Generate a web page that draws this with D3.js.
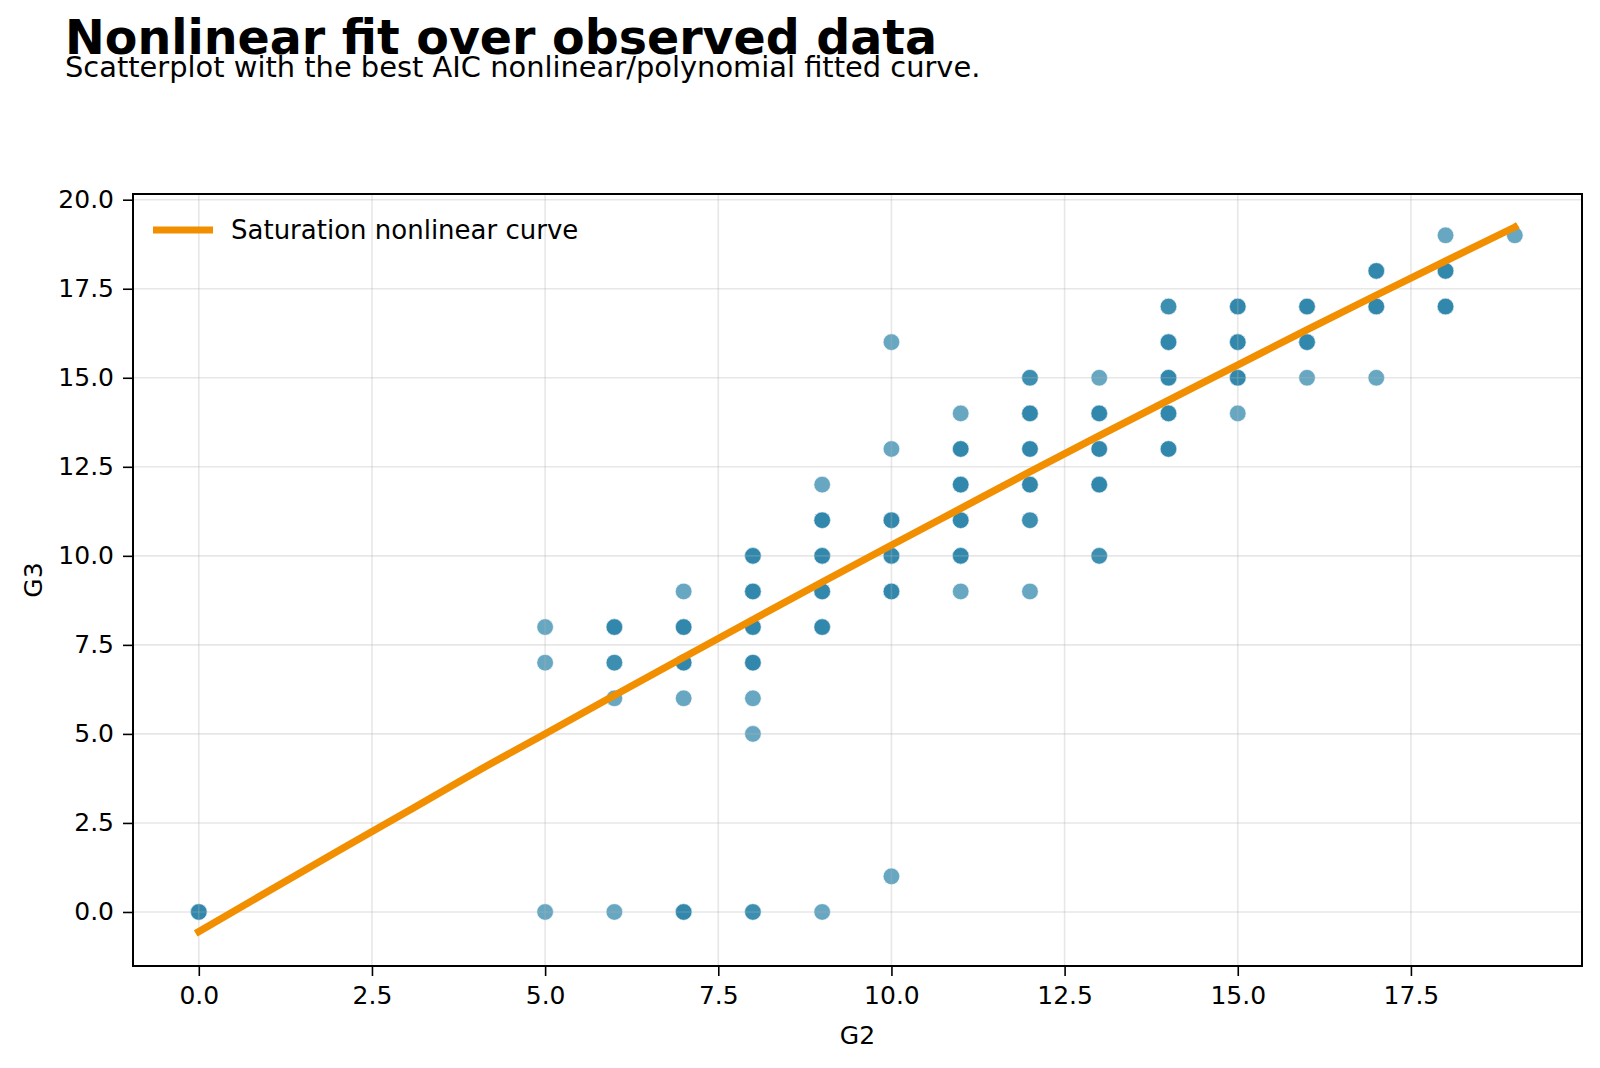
<!DOCTYPE html>
<html>
<head>
<meta charset="utf-8">
<script src="https://cdn.jsdelivr.net/npm/d3@7"></script>
<style>
  html, body { margin: 0; padding: 0; background: #fff; }
  text { font-family: "DejaVu Sans", sans-serif; fill: #000; }
</style>
</head>
<body>
<div id="chart"></div>
<script>
// observed points (G2, G3) and how many observations sit on each spot
const g2Obs = [0, 5, 5, 5, 6, 6, 6, 6, 7, 7, 7, 7, 7, 8, 8, 8, 8, 8, 8, 8,
  9, 9, 9, 9, 9, 9, 10, 10, 10, 10, 10, 10, 11, 11, 11, 11, 11, 11,
  12, 12, 12, 12, 12, 12, 13, 13, 13, 13, 13, 14, 14, 14, 14, 14,
  15, 15, 15, 15, 16, 16, 16, 17, 17, 17, 18, 18, 18, 19];
const g3Obs = [0, 8, 7, 0, 8, 7, 6, 0, 9, 8, 7, 6, 0, 10, 9, 8, 7, 6, 5, 0,
  12, 11, 10, 9, 8, 0, 16, 13, 11, 10, 9, 1, 14, 13, 12, 11, 10, 9,
  15, 14, 13, 12, 11, 9, 15, 14, 13, 12, 10, 17, 16, 15, 14, 13,
  17, 16, 15, 14, 17, 16, 15, 18, 17, 15, 19, 18, 17, 19];
const nObs = [3, 1, 1, 1, 3, 2, 1, 1, 1, 3, 3, 1, 3, 3, 3, 3, 3, 1, 1, 2,
  1, 3, 3, 3, 3, 1, 1, 1, 3, 3, 3, 1, 1, 3, 3, 3, 3, 1,
  2, 3, 3, 3, 2, 1, 1, 3, 3, 3, 2, 2, 3, 3, 3, 3,
  3, 3, 3, 1, 3, 3, 1, 3, 3, 1, 1, 3, 3, 1];

// fitted saturation curve
const curveX = [0, 1, 2, 3, 4, 5, 6, 7, 8, 9, 10, 11, 12, 13, 14, 15, 16, 17, 18, 19];
const curveY = [-0.55, 0.58, 1.70, 2.81, 3.93, 5.00, 6.08, 7.15, 8.21, 9.26,
  10.30, 11.33, 12.36, 13.37, 14.37, 15.36, 16.35, 17.32, 18.28, 19.23];

const xTicks = [0, 2.5, 5, 7.5, 10, 12.5, 15, 17.5];
const yTicks = [0, 2.5, 5, 7.5, 10, 12.5, 15, 17.5, 20];

const width = 1600, height = 1068;
const plotLeft = 133, plotRight = 1582, plotTop = 194, plotBottom = 966;

const svg = d3.select('#chart').append('svg')
  .attr('width', width)
  .attr('height', height);

// titles
svg.append('text')
  .attr('x', 65).attr('y', 54)
  .style('font-size', '47.5px').style('font-weight', 'bold')
  .text('Nonlinear fit over observed data');
svg.append('text')
  .attr('x', 65).attr('y', 77)
  .style('font-size', '28.9px')
  .text('Scatterplot with the best AIC nonlinear/polynomial fitted curve.');

const x = d3.scaleLinear().domain([-0.95, 19.97]).range([plotLeft, plotRight]);
const y = d3.scaleLinear().domain([-1.517, 20.16]).range([plotBottom, plotTop]);

// points (one circle per observation so overlaps get darker)
const pts = [];
g2Obs.forEach((g2, i) => {
  for (let k = 0; k < nObs[i]; k++) pts.push({ g2, g3: g3Obs[i] });
});

svg.append('g')
  .selectAll('circle')
  .data(pts)
  .enter()
  .append('circle')
  .attr('cx', d => x(d.g2))
  .attr('cy', d => y(d.g3))
  .attr('r', 8.3)
  .attr('fill', '#2E86AB')
  .attr('stroke', '#fff')
  .attr('stroke-width', 0.6)
  .attr('opacity', 0.72);

// grid (drawn over the scatter, like matplotlib does)
const grid = svg.append('g')
  .attr('stroke', '#b0b0b0')
  .attr('stroke-opacity', 0.3)
  .attr('stroke-width', 1.6);
grid.selectAll('.gx').data(xTicks).enter().append('line')
  .attr('x1', d => x(d)).attr('x2', d => x(d))
  .attr('y1', plotTop).attr('y2', plotBottom);
grid.selectAll('.gy').data(yTicks).enter().append('line')
  .attr('x1', plotLeft).attr('x2', plotRight)
  .attr('y1', d => y(d)).attr('y2', d => y(d));

// fitted curve
const line = d3.line()
  .x(d => x(d[0]))
  .y(d => y(d[1]))
  .curve(d3.curveMonotoneX);

svg.append('path')
  .datum(curveX.map((v, i) => [v, curveY[i]]))
  .attr('d', line)
  .attr('fill', 'none')
  .attr('stroke', '#F18F01')
  .attr('stroke-width', 7.2)
  .attr('stroke-linecap', 'square');

// axes
const xAxis = svg.append('g')
  .attr('transform', `translate(0, ${plotBottom})`)
  .call(d3.axisBottom(x).tickValues(xTicks).tickFormat(d3.format('.1f')).tickSizeOuter(0).tickSize(10).tickPadding(10));
const yAxis = svg.append('g')
  .attr('transform', `translate(${plotLeft}, 0)`)
  .call(d3.axisLeft(y).tickValues(yTicks).tickFormat(d3.format('.1f')).tickSizeOuter(0).tickSize(10).tickPadding(9));

[xAxis, yAxis].forEach(ax => {
  ax.select('.domain').remove();
  ax.selectAll('.tick line').attr('stroke', '#000').attr('stroke-width', 1.6);
  ax.selectAll('.tick text')
    .style('font-family', '"DejaVu Sans", sans-serif')
    .style('font-size', '25px')
    .attr('fill', '#000');
});

// spines
svg.append('rect')
  .attr('x', plotLeft).attr('y', plotTop)
  .attr('width', plotRight - plotLeft).attr('height', plotBottom - plotTop)
  .attr('fill', 'none')
  .attr('stroke', '#000')
  .attr('stroke-width', 2);

// axis labels
svg.append('text')
  .attr('x', (plotLeft + plotRight) / 2).attr('y', 1044)
  .attr('text-anchor', 'middle')
  .style('font-size', '25px')
  .text('G2');
svg.append('text')
  .attr('transform', `translate(42, ${(plotTop + plotBottom) / 2}) rotate(-90)`)
  .attr('text-anchor', 'middle')
  .style('font-size', '25px')
  .text('G3');

// legend
svg.append('line')
  .attr('x1', 153).attr('x2', 213)
  .attr('y1', 230).attr('y2', 230)
  .attr('stroke', '#F18F01')
  .attr('stroke-width', 7.2);
svg.append('text')
  .attr('x', 231).attr('y', 239)
  .style('font-size', '26px')
  .text('Saturation nonlinear curve');
</script>
</body>
</html>
